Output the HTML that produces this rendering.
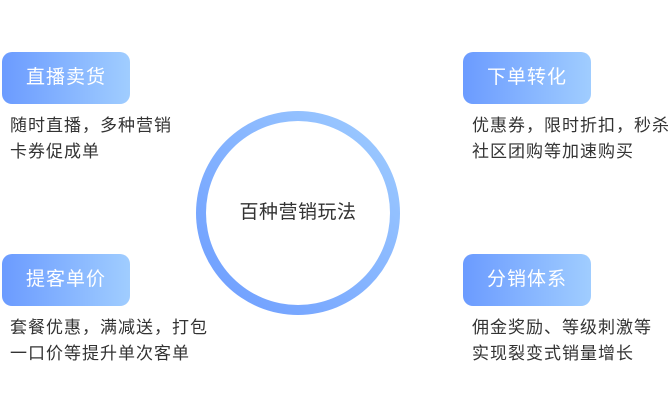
<!DOCTYPE html>
<html><head><meta charset="utf-8"><style>
body{margin:0;width:670px;height:420px;background:#fff;position:relative;overflow:hidden;font-family:"Liberation Sans","Noto Sans CJK SC",sans-serif}
.b{position:absolute;width:128px;height:52px;border-radius:10px;background:linear-gradient(90deg,#6b9bff,#a0cdff);color:#fff;font-size:19px;letter-spacing:1px;line-height:52px;text-align:center}
.t{position:absolute;font-size:17px;letter-spacing:1px;line-height:26px;color:#333;white-space:nowrap}
.c{position:absolute;left:196px;top:111px;width:184px;height:184px;border-radius:50%;border:10px solid transparent;background:linear-gradient(#fff,#fff) padding-box,linear-gradient(45deg,#6b9bff,#a0cdff) border-box;text-align:center;line-height:184px;font-size:19px;letter-spacing:0.5px;color:#333}
</style></head><body>
<div class="b" style="left:2px;top:52px">直播卖货</div>
<div class="t" style="left:10px;top:113px">随时直播，多种营销<br>卡券促成单</div>
<div class="b" style="left:463px;top:52px">下单转化</div>
<div class="t" style="left:472px;top:113px">优惠券，限时折扣，秒杀<br>社区团购等加速购买</div>
<div class="b" style="left:2px;top:254px">提客单价</div>
<div class="t" style="left:10px;top:315px">套餐优惠，满减送，打包<br>一口价等提升单次客单</div>
<div class="b" style="left:463px;top:254px">分销体系</div>
<div class="t" style="left:472px;top:315px">佣金奖励、等级刺激等<br>实现裂变式销量增长</div>
<div class="c">百种营销玩法</div>
</body></html>
